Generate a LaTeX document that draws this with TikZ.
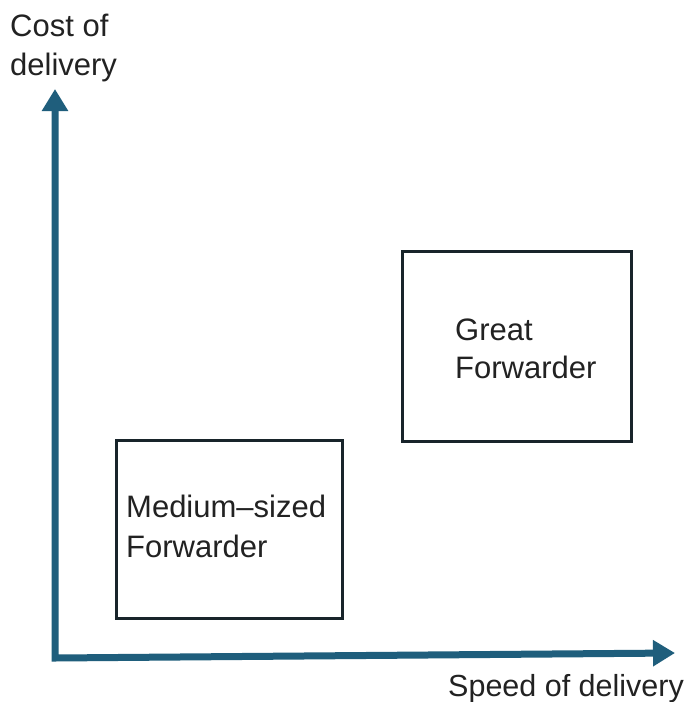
\documentclass[tikz,border=0pt]{standalone}
\usepackage{fontspec}
\setmainfont{Liberation Sans}
\usetikzlibrary{arrows.meta}
\definecolor{axisblue}{RGB}{31,94,124}
\definecolor{boxline}{RGB}{24,36,42}
\definecolor{txt}{RGB}{34,34,34}
\begin{document}
\begin{tikzpicture}[x=1pt,y=-1pt,
  axisline/.style={draw=axisblue,line width=7pt,line join=miter,
    arrows={Triangle[width=25pt,length=22pt]-Triangle[width=25pt,length=22pt]}},
  boxstyle/.style={draw=boxline,line width=3pt,rectangle,inner sep=0pt},
  lbl/.style={text=txt,font=\fontsize{31}{37}\selectfont,inner sep=0pt,anchor=base west}]
\useasboundingbox[fill=white] (0,0) rectangle (698,702);
% axes
\coordinate (o) at (55,658);
\coordinate (ytip) at (55,89);
\coordinate (xtip) at (675,653);
\draw[axisline] (ytip) -- (o) -- (xtip);
% boxes
\node[boxstyle,minimum width=226pt,minimum height=178pt] (medium) at (229,529) {};
\node[boxstyle,minimum width=229pt,minimum height=190pt] (great) at (516.5,346) {};
% labels
\node[lbl] (m1) at (126,517) {Medium–sized};
\node[lbl] (m2) at (126,557) {Forwarder};
\node[lbl] (g1) at (455,340) {Great};
\node[lbl] (g2) at (455,378) {Forwarder};
\node[lbl] (c1) at (10,36) {Cost of};
\node[lbl] (c2) at (10,75) {delivery};
\node[lbl,font=\fontsize{30.5}{37}\selectfont] (s1) at (448,696) {Speed of delivery};
\end{tikzpicture}
\end{document}
